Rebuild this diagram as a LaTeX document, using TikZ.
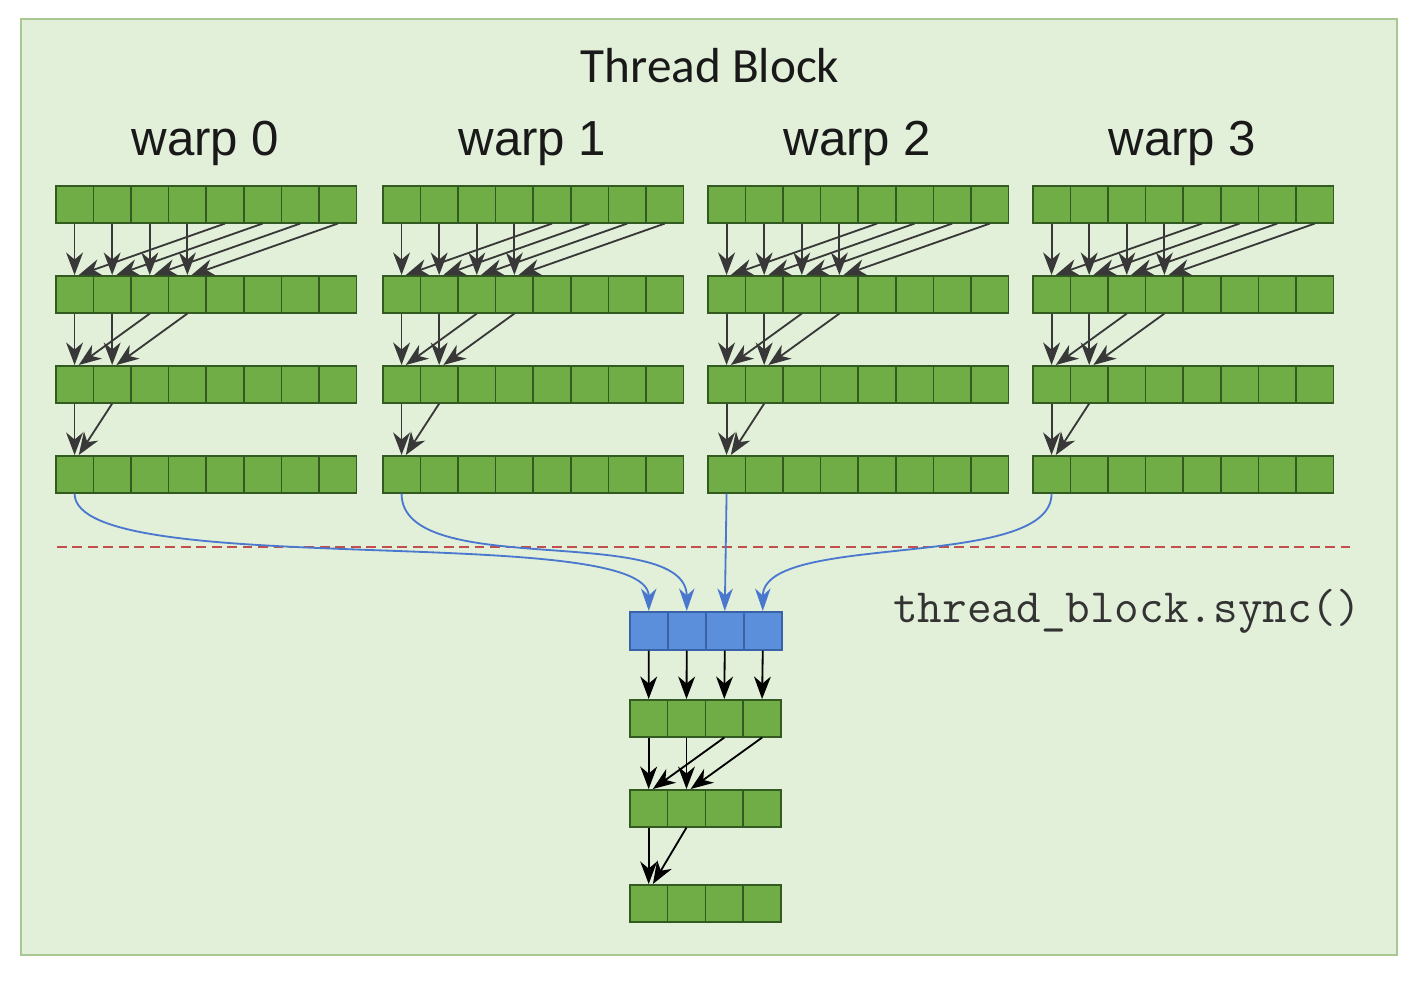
\documentclass[tikz,border=0pt]{standalone}
\usepackage{fontspec}
\newfontfamily\titlefont{Carlito}
\newfontfamily\warpfont{Liberation Sans}
\usepackage{xcolor}
\usetikzlibrary{arrows.meta}
\definecolor{bggreen}{HTML}{E2EFD9}
\definecolor{bgedge}{HTML}{A9C791}
\definecolor{cellgreen}{HTML}{70AD47}
\definecolor{celledge}{HTML}{335A20}
\definecolor{cellblue}{HTML}{5B8FDB}
\definecolor{blueedge}{HTML}{3A62A8}
\definecolor{flowblue}{HTML}{4A78CF}
\definecolor{syncred}{HTML}{C0504D}

\begin{document}
\begin{tikzpicture}[x=0.025cm, y=-0.025cm,
  gcell/.style={draw=celledge, fill=cellgreen, line width=1.1pt, minimum width=0.94cm, minimum height=0.925cm, inner sep=0pt, anchor=north west},
  bcell/.style={gcell, draw=blueedge, fill=cellblue, minimum width=0.95cm, minimum height=0.95cm},
  link/.style={draw=black!78, line width=1.3pt, -{Stealth[length=16pt,width=12pt,inset=5pt]}},
  merge/.style={draw=flowblue, line width=1.3pt, -{Stealth[length=16pt,width=11pt,inset=5pt]}}]
\useasboundingbox (0,0) rectangle (1414,980);
\draw[fill=bggreen, draw=bgedge, line width=1pt] (21,19) rectangle (1397,955);

\node[font=\titlefont\fontsize{35}{40}\selectfont, text=black!90, anchor=base] (title) at (710,82) {Thread Block};

% four warps, four rows each
\foreach \wx [count=\w from 0] in {55,382,707,1032}{
  \node[font=\warpfont\fontsize{35}{40}\selectfont, text=black!90, anchor=base] (lbl\w) at (\wx+150.5,155) {warp \w};
  \foreach \r/\top in {0/185,1/275,2/365,3/455}
    \foreach \c in {0,...,7}
      \node[gcell] (w\w-\r-\c) at (\wx+37.6*\c,\top) {};
}
\foreach \w in {0,...,3}
  \foreach \r/\k in {0/4,1/2,2/1}{
    \pgfmathtruncatemacro\nr{\r+1}
    \pgfmathtruncatemacro\last{\k-1}
    \foreach \c in {0,...,\last}{
      \pgfmathtruncatemacro\src{\c+\k}
      \draw[link] (w\w-\r-\c.south) -- (w\w-\nr-\c.north);
      \draw[link] (w\w-\r-\src.south) -- ([xshift=3pt]w\w-\nr-\c.north);
    }
  }

\draw[syncred, line width=1pt, dash pattern=on 7pt off 4pt] (57,547) -- (1350,547);
\node[font=\ttfamily\fontsize{34}{39}\selectfont, text=black!80, anchor=base west, inner sep=0pt] (sync) at (893,622) {thread\_block.sync()};

% block level reduction
\foreach \c in {0,...,3}
  \node[bcell] (b\c) at (629+38*\c,611) {};
\foreach \r/\top in {1/699,2/789,3/884}
  \foreach \c in {0,...,3}
    \node[gcell, minimum width=0.945cm] (s\r-\c) at (629+37.8*\c,\top) {};

\draw[merge] (w0-3-0.south) .. controls +(0,88) and +(0,-90) .. (b0.north);
\draw[merge] (w1-3-0.south) .. controls +(0,88) and +(0,-90) .. (b1.north);
\draw[merge] (w2-3-0.south) -- (b2.north);
\draw[merge] (w3-3-0.south) .. controls +(0,78) and +(0,-80) .. (b3.north);

\foreach \c in {0,...,3}
  \draw[link, draw=black] (b\c.south) -- (s1-\c.north);
\draw[link, draw=black] (s1-0.south) -- (s2-0.north);
\draw[link, draw=black] (s1-1.south) -- (s2-1.north);
\draw[link, draw=black] (s1-2.south) -- ([xshift=3pt]s2-0.north);
\draw[link, draw=black] (s1-3.south) -- ([xshift=3pt]s2-1.north);
\draw[link, draw=black] (s2-0.south) -- (s3-0.north);
\draw[link, draw=black] (s2-1.south) -- ([xshift=3pt]s3-0.north);
\end{tikzpicture}
\end{document}
